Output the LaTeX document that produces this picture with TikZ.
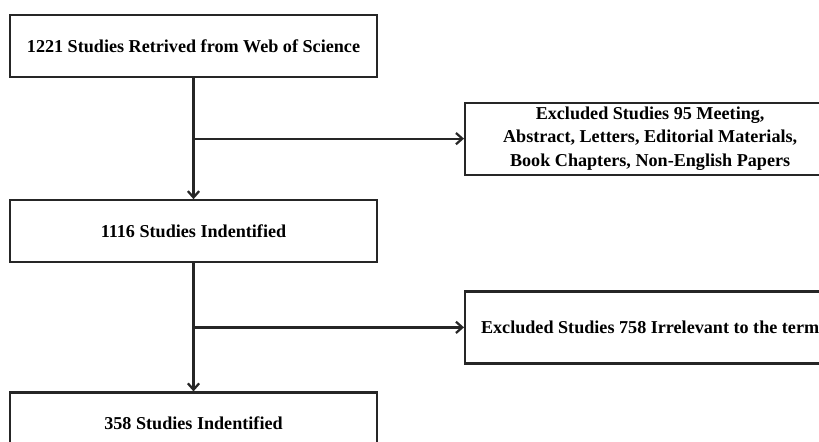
\documentclass[tikz,border=0pt]{standalone}
\usepackage{fontspec}
\setmainfont{Liberation Serif}
\usetikzlibrary{positioning,calc,arrows.meta}

\begin{document}
\begin{tikzpicture}[
    line width=1.6pt,
    draw=black!85,
    node distance=3cm,
    study node/.style={draw=black!85,rectangle,inner sep=0pt,minimum width=9.175cm,minimum height=1.55cm,
      font=\fontsize{12.9}{16.5}\selectfont\bfseries},
    excluded node/.style={study node,minimum width=9.25cm,minimum height=1.8cm,align=center},
    flow/.style={-{Straight Barb[length=4.5pt,width=8pt]}}
    ]
    \useasboundingbox (0,0) rectangle (20.475,-11.025);
    \clip (0,0) rectangle (20.475,-11.025);

    \node[study node] (1) at (4.8375,-1.15) {1221 Studies Retrived from Web of Science};
    \node[study node] (2) [below=3.025cm of 1] {1116 Studies Indentified};
    \node[study node] (3) [below=3.2cm of 2] {358 Studies Indentified};

    \coordinate (a) at ($(1.south)!0.5!(2.north)$);
    \coordinate (b) at ($(2.south)!0.5!(3.north)$);

    \node[excluded node] (4) [right=6.7625cm of a] {Excluded Studies 95 Meeting,\\
      Abstract, Letters, Editorial Materials,\\ Book Chapters, Non-English Papers};
    \node[excluded node] (5) [right=6.7625cm of b] {Excluded Studies 758 Irrelevant to the term};

    \path[flow]
      (1) edge (2)
      (2) edge (3)
      (a) edge (4)
      (b) edge (5);
  \end{tikzpicture}
\end{document}
